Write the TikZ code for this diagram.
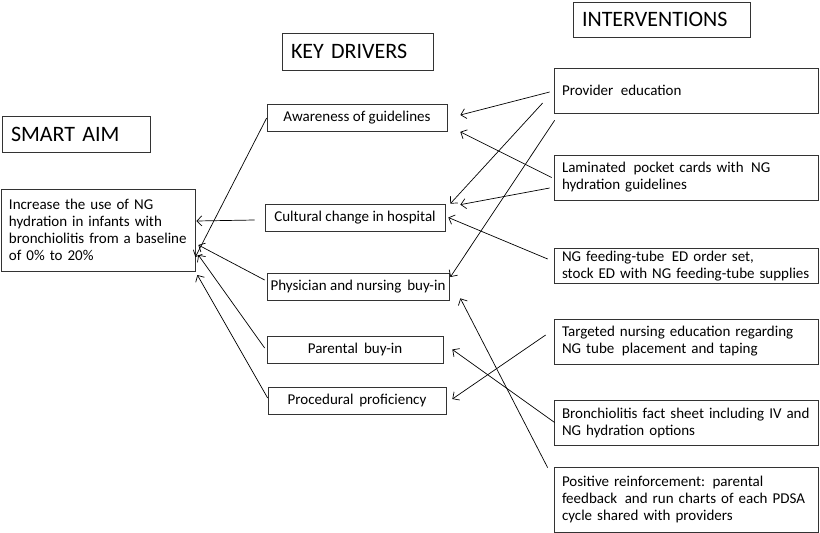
\documentclass[tikz,border=0pt]{standalone}
\usepackage{fontspec}
\setmainfont{Carlito}
\usetikzlibrary{arrows.meta}

\begin{document}
\begin{tikzpicture}[x=1pt,y=-1pt,
                    every node/.style={draw=black!80,line width=0.7pt,rectangle,inner ysep=2pt},
                    hdr/.style={font=\fontsize{22}{25}\selectfont,inner xsep=9pt,align=left},
                    drv/.style={font=\fontsize{15}{17}\selectfont,minimum height=27pt,align=center},
                    intv/.style={font=\fontsize{15}{17}\selectfont,inner xsep=8pt,text width=248pt,align=left},
                    arr/.style={-{Straight Barb[length=5pt,width=10pt]},line width=0.7pt}
]
\useasboundingbox (0,0) rectangle (820,533);

% headers
\node [hdr, text width=130pt, minimum height=36pt] at (76,134) (smart) {SMART AIM};
\node [hdr, text width=133pt, minimum height=37pt] at (357.5,51.5) (keyd) {KEY DRIVERS};
\node [hdr, text width=159pt, minimum height=35pt] at (661.5,19.5) (inter) {INTERVENTIONS};
%
\node [intv, text width=178pt, minimum height=82pt] at (98,230) (aim)
      {Increase the use of NG\\hydration in infants with\\bronchiolitis from a baseline\\of 0\% to 20\%};
%
\node [drv, minimum width=180pt] at (357,118) (awar) {Awareness of guidelines};
\node [drv, minimum width=180pt] at (355,217.5) (cult) {Cultural change in hospital};
\node [drv, minimum width=182pt] at (358,286.5) (phys) {Physician and nursing\, buy-in};
\node [drv, minimum width=176pt] at (355,349.5) (pare) {Parental\, buy-in};
\node [drv, minimum width=178pt] at (357,400.5) (proc) {Procedural\, proficiency};
%
\node [intv, minimum height=45pt] at (686,90.5) (prov) {Provider\, education};
\node [intv, minimum height=45pt] at (686,177.5) (lami) {Laminated\, pocket cards with\, NG\\hydration guidelines};
\node [intv, minimum height=35pt, inner ysep=0pt] at (686,266) (ngft) {NG feeding-tube\, ED order set,\\stock ED with NG feeding-tube supplies};
\node [intv, minimum height=45pt] at (686,341.5) (targ) {Targeted nursing education regarding\\NG tube\, placement and taping};
\node [intv, minimum height=45pt] at (686,422.5) (bron) {Bronchiolitis fact sheet including IV and\\NG hydration options};
\node [intv, minimum height=65pt] at (686,499.5) (posi) {Positive reinforcement: parental\\feedback\, and run charts of each PDSA\\cycle shared with providers};
%
\draw [arr] (awar.west) -- ([yshift=-27pt]aim.east);
\draw [arr] ([shift={(-10,2.5)}]cult.west) -- ([shift={(1,-9)}]aim.east);
\draw [arr] ([shift={(-2,-6.5)}]phys.west) -- ([shift={(3,15)}]aim.east);
\draw [arr] ([shift={(-2,-1.5)}]pare.west) -- ([shift={(3,25)}]aim.east);
\draw [arr] ([shift={(0,-2.5)}]proc.west) -- ([shift={(2,45)}]aim.east);
%
\draw [arr] ([shift={(-4,1.5)}]prov.west) -- ([shift={(13,-3)}]awar.east);
\draw [arr] ([shift={(-11,12.5)}]prov.west) -- ([shift={(5,0)}]cult.north east);
\draw [arr] ([shift={(1,7)}]prov.south west) -- ([shift={(1,-9.5)}]phys.east);
\draw [arr] ([shift={(-2,0)}]lami.west) -- ([shift={(13,0)}]awar.south east);
\draw [arr] ([shift={(-4,10.5)}]lami.west) -- ([shift={(15,1)}]cult.north east);
\draw [arr] ([shift={(-6,-7)}]ngft.west) -- ([shift={(3,0)}]cult.east);
\draw [arr] ([shift={(-8,-6.5)}]targ.west) -- ([shift={(6,-1.5)}]proc.east);
\draw [arr] ([shift={(1,0)}]bron.west) -- ([shift={(9,0)}]pare.east);
\draw [arr] ([shift={(-6,1)}]posi.north west) -- ([shift={(11,-2)}]phys.south east);
\end{tikzpicture}
\end{document}
